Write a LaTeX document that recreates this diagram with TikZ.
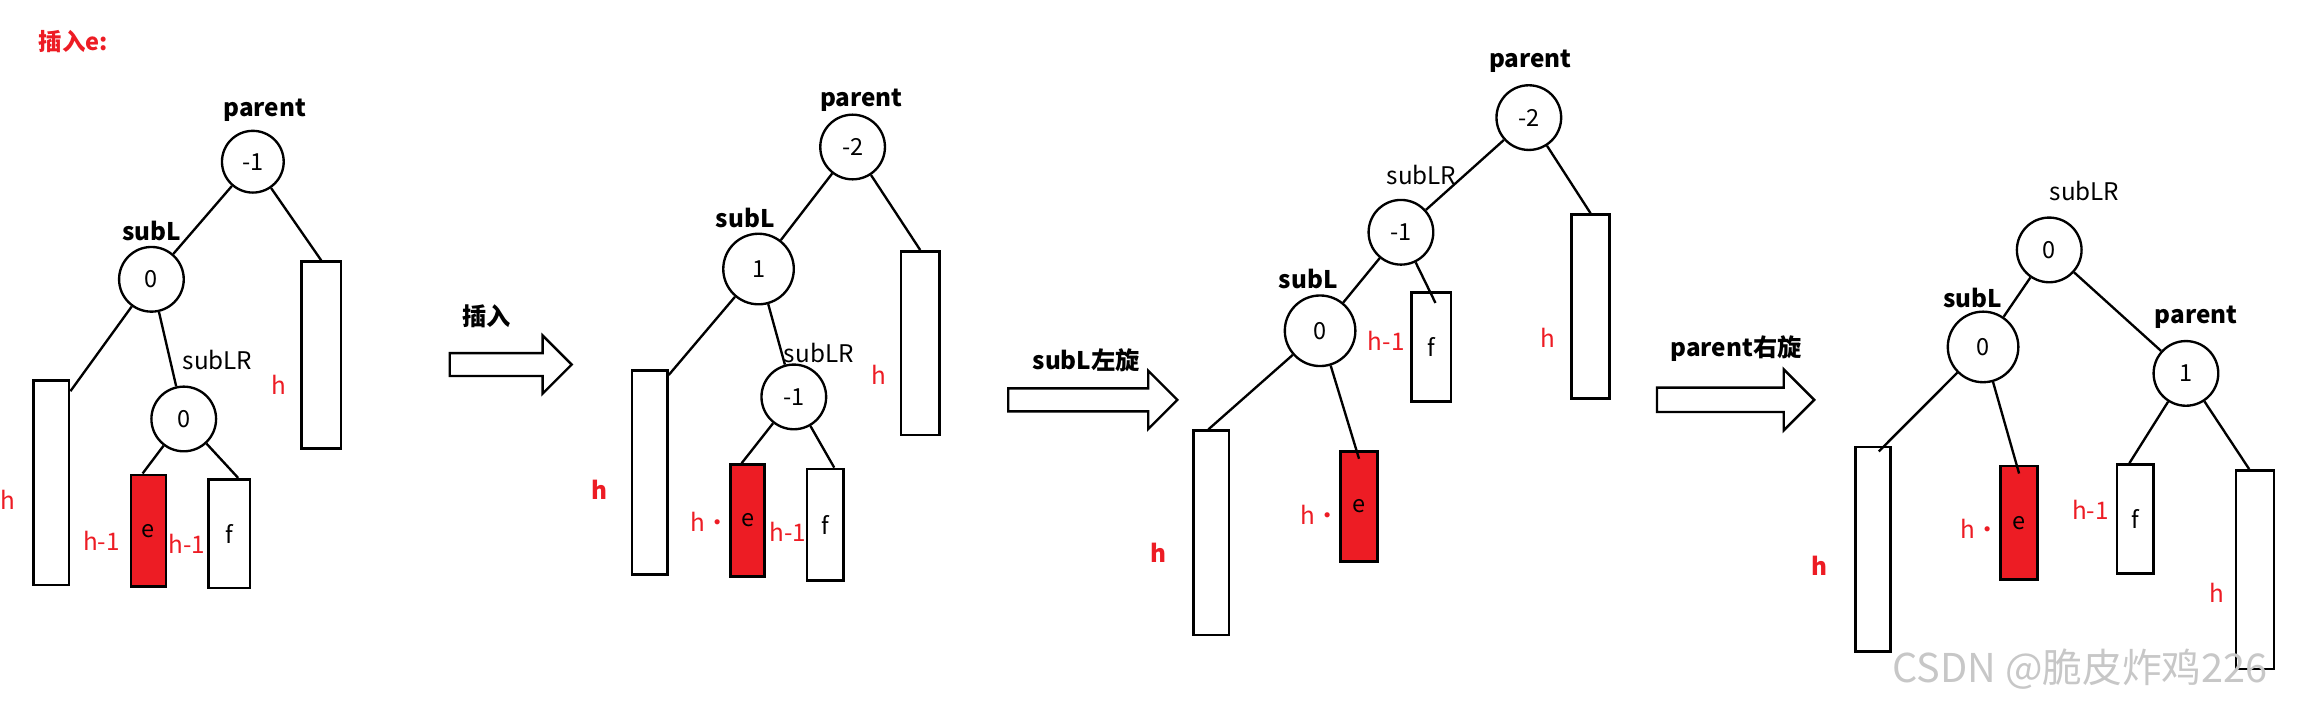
\documentclass[tikz,border=0pt]{standalone}
\usepackage{fontspec}
\setmainfont{Noto Sans CJK SC}
\usetikzlibrary{shapes.arrows}
\definecolor{rd}{RGB}{237,28,36}
\begin{document}
\begin{tikzpicture}[x=1pt,y=-1pt,
  circ/.style={draw,circle,line width=1.6pt,inner sep=0pt,font=\fontsize{16}{16}\selectfont},
  box/.style={draw,line width=1.8pt,inner sep=0pt,font=\fontsize{16}{16}\selectfont},
  ebox/.style={box,fill=rd},
  lbl/.style={font=\bfseries\fontsize{16.5}{16.5}\selectfont},
  nlbl/.style={font=\fontsize{16.5}{16.5}\selectfont},
  hl/.style={text=rd,font=\fontsize{16.5}{16.5}\selectfont},
  hb/.style={text=rd,font=\bfseries\fontsize{16.5}{16.5}\selectfont},
  edge/.style={line width=1.6pt},
  arr/.style={single arrow,draw,line width=1.6pt,fill=white,inner xsep=0pt,inner ysep=7pt,single arrow head extend=12pt,single arrow head indent=0pt,shape border rotate=0}]
\useasboundingbox (0,0) rectangle (1568,477.5);
\node[text=rd,font=\bfseries\fontsize{16}{16}\selectfont] (title) at (50,28) {插入e:};
% ---- tree 1
\node[lbl] (t1pl) at (180,75) {parent};
\node[circ,minimum size=42pt] (t1p) at (172,110) {-1};
\node[lbl] (t1sl) at (103,157) {subL};
\node[circ,minimum size=44pt] (t1s) at (103,190) {0};
\node[nlbl] (t1lrl) at (148,245) {subLR};
\node[circ,minimum size=44pt] (t1lr) at (125,285) {0};
\node[box,minimum width=27pt,minimum height=127pt] (t1r) at (218.5,241.5) {};
\node[box,minimum width=24pt,minimum height=139pt] (t1l) at (35,328.5) {};
\node[ebox,minimum width=24pt,minimum height=76pt] (t1e) at (101,361) {e};
\node[box,minimum width=28pt,minimum height=74pt] (t1f) at (156,363) {f};
\draw[edge] (t1p) -- (t1s);
\draw[edge] (t1p) -- (t1r.north);
\draw[edge] (t1s) -- ([yshift=-8pt]t1l.north east);
\draw[edge] (t1s) -- (t1lr);
\draw[edge] (t1lr) -- ([xshift=-4pt]t1e.north);
\draw[edge] (t1lr) -- ([xshift=6pt]t1f.north);
\node[hl] (t1h1) at (190,262) {h};
\node[hl,anchor=west] (t1h2) at (-3,340) {h};
\node[hl] (t1h3) at (69,368) {h-1};
\node[hl] (t1h4) at (127,370) {h-1};
% arrow 1
\node[lbl] (a1l) at (331,215) {插入};
\node[arr,minimum height=83pt] (a1) at (343.5,248) {};
% ---- tree 2
\node[lbl] (t2pl) at (586,68) {parent};
\node[circ,minimum size=44pt] (t2p) at (580,100) {-2};
\node[lbl] (t2sl) at (507,148) {subL};
\node[circ,minimum size=48pt] (t2s) at (516,183) {1};
\node[nlbl] (t2lrl) at (557,240) {subLR};
\node[circ,minimum size=44pt] (t2lr) at (540,270) {-1};
\node[box,minimum width=26pt,minimum height=125pt] (t2r) at (626,233.5) {};
\node[box,minimum width=24pt,minimum height=139pt] (t2l) at (442,321.5) {};
\node[ebox,minimum width=23pt,minimum height=76pt] (t2e) at (508.5,354) {e};
\node[box,minimum width=25pt,minimum height=76pt] (t2f) at (561.5,357) {f};
\draw[edge] (t2p) -- (t2s);
\draw[edge] (t2p) -- (t2r.north);
\draw[edge] (t2s) -- ([yshift=-4pt]t2l.north east);
\draw[edge] (t2s) -- (t2lr);
\draw[edge] (t2lr) -- ([xshift=-4pt]t2e.north);
\draw[edge] (t2lr) -- ([xshift=6pt]t2f.north);
\node[hl] (t2h1) at (598,255) {h};
\node[hb] (t2h2) at (408,333) {h};
\node[hl] (t2h3) at (483,355) {h·};
\node[hl] (t2h4) at (536,362) {h-1};
% arrow 2
\node[lbl] (a2l) at (739,245) {subL左旋};
\node[arr,minimum height=115pt] (a2) at (739.5,272) {};
% ---- tree 3
\node[lbl] (t3pl) at (1041,42) {parent};
\node[circ,minimum size=44pt] (t3p) at (1040,80) {-2};
\node[nlbl] (t3lrl) at (967,119) {subLR};
\node[circ,minimum size=44pt] (t3lr) at (953,158) {-1};
\node[lbl] (t3sl) at (890,190) {subL};
\node[circ,minimum size=48pt] (t3s) at (898,225) {0};
\node[box,minimum width=26pt,minimum height=125pt] (t3r) at (1082,208.5) {};
\node[box,minimum width=27pt,minimum height=74pt] (t3f) at (973.5,236) {f};
\node[box,minimum width=24pt,minimum height=139pt] (t3l) at (824,362.5) {};
\node[ebox,minimum width=25pt,minimum height=75pt] (t3e) at (924.5,344.5) {e};
\draw[edge] (t3p) -- (t3lr);
\draw[edge] (t3p) -- (t3r.north);
\draw[edge] (t3lr) -- (t3s);
\draw[edge] (t3lr) -- ([xshift=3pt,yshift=-8pt]t3f.north);
\draw[edge] (t3s) -- ([xshift=-2pt]t3l.north);
\draw[edge] (t3s) -- ([yshift=-6pt]t3e.north);
\node[hl] (t3h1) at (943,232) {h-1};
\node[hl] (t3h2) at (1053,230) {h};
\node[hb] (t3h3) at (788,376) {h};
\node[hl] (t3h4) at (898,350) {h·};
% arrow 3
\node[lbl] (a3l) at (1181,237) {parent右旋};
\node[arr,minimum height=107pt,inner ysep=7.5pt,single arrow head extend=12.5pt] (a3) at (1176.5,272) {};
% ---- tree 4
\node[nlbl] (t4lrl) at (1418,130) {subLR};
\node[circ,minimum size=44pt] (t4lr) at (1394,170) {0};
\node[lbl] (t4sl) at (1342,203) {subL};
\node[circ,minimum size=48pt] (t4s) at (1349,236) {0};
\node[lbl] (t4pl) at (1494,216) {parent};
\node[circ,minimum size=44pt] (t4p) at (1487,254) {1};
\node[box,minimum width=24pt,minimum height=139pt] (t4l) at (1274,373.5) {};
\node[ebox,minimum width=25pt,minimum height=77pt] (t4e) at (1373.5,355.5) {e};
\node[box,minimum width=25pt,minimum height=74pt] (t4f) at (1452.5,353) {f};
\node[box,minimum width=26pt,minimum height=135pt] (t4r) at (1534,387.5) {};
\draw[edge] (t4lr) -- (t4s);
\draw[edge] (t4lr) -- (t4p);
\draw[edge] (t4s) -- ([xshift=4pt,yshift=-4pt]t4l.north);
\draw[edge] (t4s) -- ([yshift=-6pt]t4e.north);
\draw[edge] (t4p) -- ([xshift=-4pt]t4f.north);
\draw[edge] (t4p) -- ([xshift=-4pt]t4r.north);
\node[hb] (t4h1) at (1238,385) {h};
\node[hl] (t4h2) at (1347,360) {h·};
\node[hl] (t4h3) at (1422,347) {h-1};
\node[hl] (t4h4) at (1508,403) {h};
\node[text=black!22,font=\fontsize{27}{27}\selectfont] (wm) at (1415,455) {CSDN @脆皮炸鸡226};
\end{tikzpicture}
\end{document}
